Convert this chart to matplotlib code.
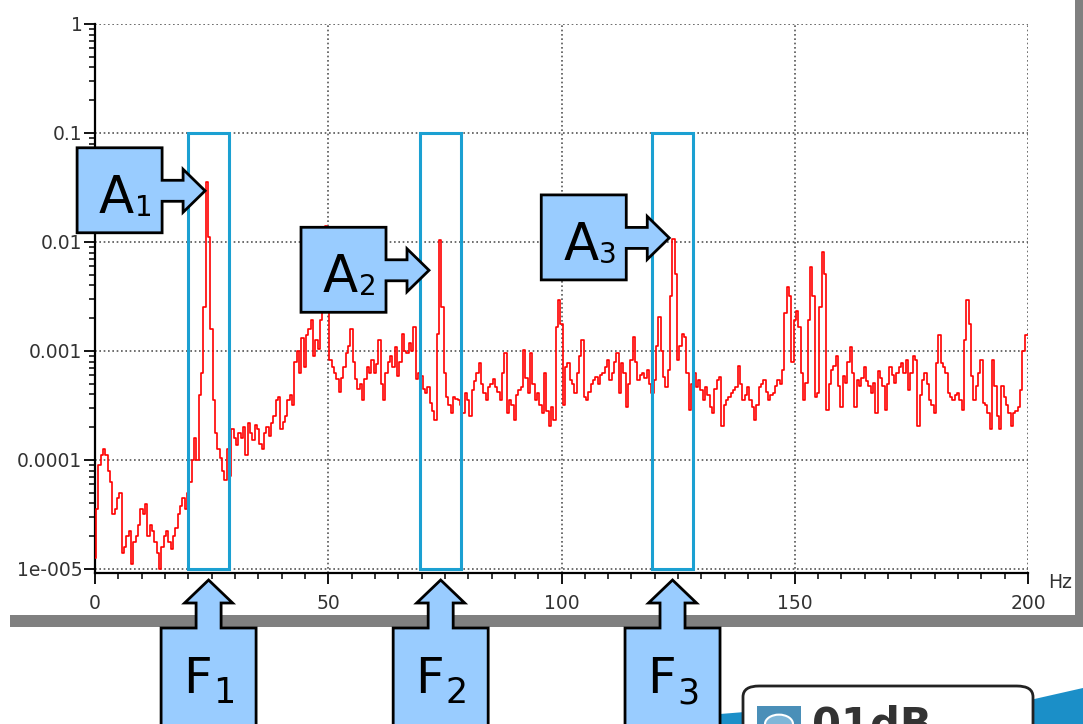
import numpy as np
import matplotlib
matplotlib.use("Agg")
import matplotlib.pyplot as plt
from matplotlib.patches import Polygon, Rectangle, FancyBboxPatch, Circle
from matplotlib.ticker import MultipleLocator, LogLocator, NullFormatter

W, H = 1083, 724

# spectrum, log10 of amplitude, one value every 0.5 Hz (0 .. 200 Hz)
step_hz = 0.5
log_amp = [
    -4.9, -4.45, -4.05, -3.95, -3.9, -3.95, -4.1, -4.2, -4.5, -4.45, -4.35, -4.3, -4.85, -4.8, -4.7, -4.65, -4.95, -4.75, -4.7, -4.6,
    -4.45, -4.5, -4.4, -4.7, -4.6, -4.65, -4.75, -4.85, -5.0, -4.8, -4.7, -4.65, -4.75, -4.82, -4.7, -4.62, -4.5, -4.42, -4.35, -4.45,
    -4.3, -4.2, -4.0, -3.8, -4.0, -3.4, -3.2, -2.6, -1.45, -1.95, -2.8, -3.45, -3.75, -3.9, -3.98, -4.1, -4.18, -3.9, -4.15, -3.72,
    -3.8, -3.86, -3.75, -3.8, -3.7, -3.95, -3.66, -3.75, -3.82, -3.68, -3.72, -3.85, -3.9, -3.75, -3.7, -3.78, -3.66, -3.6, -3.45, -3.42,
    -3.72, -3.65, -3.6, -3.45, -3.4, -3.5, -3.1, -3.0, -3.2, -2.88, -3.15, -2.85, -2.8, -2.72, -3.05, -2.9, -2.98, -2.72, -2.6, -1.85,
    -2.6, -3.08, -3.15, -3.2, -3.26, -3.38, -3.25, -3.15, -3.02, -2.95, -2.8, -3.1, -3.26, -3.35, -3.3, -3.45, -3.26, -3.15, -3.2, -3.08,
    -3.2, -3.12, -2.9, -3.3, -3.45, -3.2, -3.1, -3.05, -3.15, -2.96, -3.23, -3.1, -2.84, -3.0, -3.02, -2.93, -3.0, -2.78, -3.26, -3.2,
    -3.23, -3.35, -3.39, -3.33, -3.48, -3.55, -3.63, -2.84, -1.98, -2.6, -3.2, -3.42, -3.5, -3.57, -3.42, -3.44, -3.45, -3.5, -3.57, -3.39,
    -3.45, -3.6, -3.36, -3.28, -3.2, -3.11, -3.3, -3.39, -3.45, -3.33, -3.3, -3.26, -3.33, -3.38, -3.45, -3.2, -3.02, -3.57, -3.45, -3.5,
    -3.63, -3.4, -3.36, -3.33, -2.99, -3.25, -3.39, -3.02, -3.3, -3.45, -3.39, -3.5, -3.57, -3.2, -3.55, -3.69, -3.51, -3.63, -2.78, -2.53,
    -2.75, -3.5, -3.15, -3.11, -3.27, -3.3, -3.39, -3.2, -3.05, -2.9, -3.42, -3.45, -3.38, -3.3, -3.27, -3.24, -3.3, -3.22, -3.2, -3.15,
    -3.08, -3.27, -3.2, -3.1, -3.02, -3.39, -3.11, -3.2, -3.51, -3.3, -3.08, -2.87, -3.1, -3.27, -3.22, -3.2, -3.25, -3.17, -3.3, -3.39,
    -3.27, -2.95, -2.69, -3.0, -3.24, -3.33, -3.17, -2.5, -1.97, -2.29, -3.08, -2.95, -2.84, -2.87, -3.2, -3.54, -3.3, -3.2, -3.33, -3.27,
    -3.36, -3.45, -3.33, -3.4, -3.51, -3.57, -3.35, -3.27, -3.24, -3.69, -3.5, -3.45, -3.42, -3.39, -3.36, -3.33, -3.14, -3.3, -3.45, -3.4,
    -3.33, -3.45, -3.51, -3.63, -3.5, -3.33, -3.3, -3.27, -3.38, -3.45, -3.4, -3.39, -3.32, -3.27, -3.3, -3.17, -2.65, -2.41, -2.5, -3.1,
    -2.72, -2.63, -2.78, -3.2, -3.45, -3.29, -2.72, -2.23, -2.5, -3.42, -3.39, -2.6, -2.09, -2.29, -3.54, -3.3, -3.17, -3.14, -3.05, -3.32,
    -3.51, -3.23, -3.29, -3.1, -2.96, -3.2, -3.51, -3.27, -3.32, -3.25, -3.15, -3.28, -3.32, -3.39, -3.29, -3.57, -3.18, -3.25, -3.32, -3.54,
    -3.3, -3.15, -3.22, -3.29, -3.2, -3.15, -3.11, -3.2, -3.08, -3.36, -3.2, -3.05, -3.08, -3.69, -3.4, -3.27, -3.2, -3.3, -3.45, -3.5,
    -3.57, -3.11, -2.85, -3.11, -3.15, -3.2, -3.39, -3.42, -3.45, -3.4, -3.39, -3.45, -3.54, -2.9, -2.53, -2.75, -3.23, -3.45, -3.32, -3.2,
    -3.08, -3.48, -3.5, -3.57, -3.72, -3.08, -3.32, -3.6, -3.72, -3.32, -3.42, -3.5, -3.57, -3.69, -3.57, -3.55, -3.51, -3.36, -3.0, -2.85,
    -2.85,
]

# frequency bands (F1..F3) and where the amplitude arrows (A1..A3) point
band_lo = [20.0, 69.7, 119.4]
band_hi = [28.7, 78.5, 128.2]
band_top = 0.1
band_bottom = 1e-5
a_tip_hz = [23.6, 71.6, 123.1]
a_tip_val = [0.0295, 0.0055, 0.0109]

ytick_vals = [1e-5, 1e-4, 1e-3, 1e-2, 1e-1, 1]
ytick_labels = ["1e-005", "0.0001", "0.001", "0.01", "0.1", "1"]
xtick_vals = [0, 50, 100, 150, 200]

freq = np.arange(len(log_amp)) * step_hz
amp = 10.0 ** np.array(log_amp)

fig = plt.figure(figsize=(W / 100, H / 100), dpi=100)
ax = fig.add_axes([95 / W, 1 - 573 / H, 933 / W, 549 / H])

ax.plot(freq, amp, color="#ff0000", lw=1.2, drawstyle="steps-mid", zorder=3)
ax.set_yscale("log")
ax.set_xlim(0, 200)
ax.set_ylim(10 ** -5.037, 1)

ax.set_yticks(ytick_vals, ytick_labels)
ax.yaxis.set_minor_locator(LogLocator(base=10, subs=np.arange(2, 10)))
ax.yaxis.set_minor_formatter(NullFormatter())
ax.set_xticks(xtick_vals, [str(v) for v in xtick_vals])
ax.xaxis.set_minor_locator(MultipleLocator(5))

ax.tick_params(axis="y", which="major", length=8, width=1.3, pad=1, labelsize=13.5, labelcolor="#333333")
ax.tick_params(axis="y", which="minor", length=4, width=1.1)
ax.tick_params(axis="x", which="major", length=8, width=1.3, pad=7, labelsize=13.5, labelcolor="#333333")
ax.tick_params(axis="x", which="minor", length=4, width=1.1)

ax.grid(True, which="major", color="#555555", linestyle=(0, (1, 1.6)), lw=1.2)
for s in ["top", "right"]:
    ax.spines[s].set_visible(False)
for s in ["left", "bottom"]:
    ax.spines[s].set_linewidth(1.6)

for lo, hi in zip(band_lo, band_hi):
    ax.add_patch(Rectangle((lo, band_bottom), hi - lo, band_top - band_bottom,
                           fill=False, ec="#1ba0d2", lw=2.2, zorder=4))

fig.text(1060 / W, 1 - 583 / H, "Hz", ha="center", va="center", fontsize=13.5, color="#333333")

# grey window border
fig.add_artist(Rectangle((10 / W, 1 - 627 / H), (W - 10) / W, 12 / H, transform=fig.transFigure,
                         color="#808080", lw=0, zorder=5))
fig.add_artist(Rectangle((1075 / W, 1 - 627 / H), 8 / W, 627 / H, transform=fig.transFigure,
                         color="#808080", lw=0, zorder=5))


def to_fig(pts):
    return [(x / W, 1 - y / H) for x, y in pts]


def data_px(x, y):
    dx, dy = ax.transData.transform((x, y))
    return dx, H - dy


callout_fc = "#99ccff"

# amplitude callouts, arrow pointing right
for i, (hz, val) in enumerate(zip(a_tip_hz, a_tip_val)):
    tx, ty = data_px(hz, val)
    b0, b1 = tx - 128, tx - 43
    pts = [(b0, ty - 43), (b1, ty - 43), (b1, ty - 10.5), (tx - 22, ty - 10.5), (tx - 22, ty - 21.5),
           (tx, ty), (tx - 22, ty + 21.5), (tx - 22, ty + 10.5), (b1, ty + 10.5), (b1, ty + 42), (b0, ty + 42)]
    fig.add_artist(Polygon(to_fig(pts), closed=True, transform=fig.transFigure, fc=callout_fc,
                           ec="black", lw=2, zorder=10, joinstyle="miter"))
    fig.text((b0 + 57) / W, 1 - (ty + 22) / H, "A", ha="right", va="baseline", fontsize=37, zorder=11)
    fig.text((b0 + 58) / W, 1 - (ty + 25) / H, str(i + 1), ha="left", va="baseline", fontsize=20, zorder=11)

# frequency callouts, arrow pointing up
for i, (lo, hi) in enumerate(zip(band_lo, band_hi)):
    tx, _ = data_px((lo + hi) / 2, 1)
    ty = 580
    pts = [(tx, ty), (tx + 24, ty + 23), (tx + 12.5, ty + 23), (tx + 12.5, ty + 48), (tx + 47.5, ty + 48),
           (tx + 47.5, ty + 170), (tx - 47.5, ty + 170), (tx - 47.5, ty + 48), (tx - 12.5, ty + 48),
           (tx - 12.5, ty + 23), (tx - 24, ty + 23)]
    fig.add_artist(Polygon(to_fig(pts), closed=True, transform=fig.transFigure, fc=callout_fc,
                           ec="black", lw=2, zorder=10, joinstyle="miter"))
    fig.text((tx + 3) / W, 1 - 693 / H, "F", ha="right", va="baseline", fontsize=36, zorder=11)
    fig.text((tx + 5) / W, 1 - 703 / H, str(i + 1), ha="left", va="baseline", fontsize=25, zorder=11)

# logo fragment bottom right
fig.add_artist(Polygon(to_fig([(1030, 700), (1083, 688), (1083, 724), (1030, 724)]), closed=True,
                       transform=fig.transFigure, fc="#1b8fc8", lw=0, zorder=6))
fig.add_artist(Polygon(to_fig([(720, 714), (745, 712), (745, 724), (720, 724)]), closed=True,
                       transform=fig.transFigure, fc="#1b8fc8", lw=0, zorder=6))
fig.add_artist(FancyBboxPatch((743 / W, 1 - 740 / H), 290 / W, 54 / H, boxstyle="round,pad=0,rounding_size=0.015",
                              transform=fig.transFigure, fc="white", ec="#222222", lw=2, zorder=7))
fig.add_artist(Rectangle((757 / W, 1 - 724 / H), 44 / W, 18 / H, transform=fig.transFigure,
                         fc="#4a8fb8", lw=0, zorder=8))
fig.add_artist(Circle((779 / W, 1 - 724 / H), 14 / W, transform=fig.transFigure,
                      fc="#7fb6d8", ec="white", lw=1.5, zorder=8))
fig.text(812 / W, 1 - 738 / H, "01dB", ha="left", va="baseline", fontsize=30, fontweight="bold",
         color="#333333", zorder=9)

fig.savefig("out.png", dpi=100)
